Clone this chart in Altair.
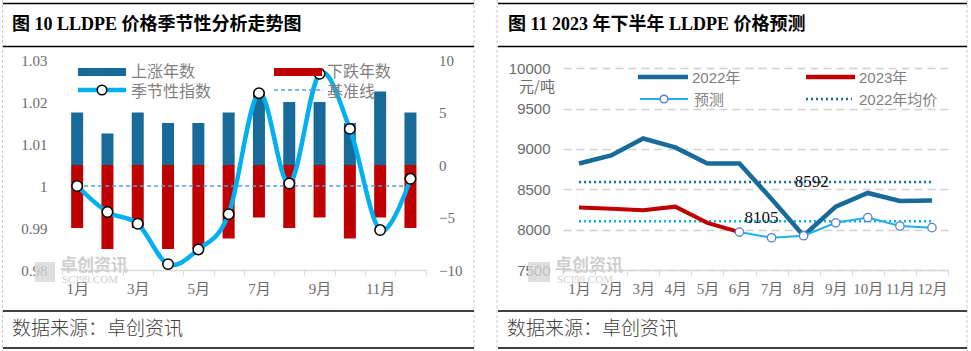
import altair as alt
import pandas as pd

# ---------------- data ----------------
months = ["1月", "2月", "3月", "4月", "5月", "6月", "7月", "8月", "9月", "10月", "11月", "12月"]
up_years = [5, 3, 5, 4, 4, 5, 7, 6, 6, 4, 7, 5]
down_years = [-6, -8, -6, -8, -8, -7, -5, -6, -5, -7, -5, -6]
season_index = [1.000, 0.9938, 0.991, 0.9814, 0.9849, 0.9933, 1.0221, 1.0006, 1.0267, 1.0136, 0.9895, 1.0017]
base_line = 1.0

price_2022 = [8820, 8920, 9130, 9020, 8820, 8820, 8380, 7925, 8285, 8455, 8355, 8360]
months_2023 = ["1月", "2月", "3月", "4月", "5月", "6月"]
price_2023 = [8275, 8260, 8240, 8285, 8085, 7970]
months_pred = ["6月", "7月", "8月", "9月", "10月", "11月", "12月"]
price_pred = [7970, 7900, 7925, 8085, 8150, 8045, 8025]
avg_2022 = 8592
avg_pred = 8105

left_ticks = [0.98, 0.99, 1.0, 1.01, 1.02, 1.03]
right_ticks = [-10, -5, 0, 5, 10]
price_ticks = [7500, 8000, 8500, 9000, 9500, 10000]

# ---------------- styles ----------------
SERIF = "Liberation Serif, Noto Sans CJK SC"
SANS = "Liberation Sans, Noto Sans CJK SC"
CJK = "Noto Sans CJK SC"
DARK_BLUE = "#186B99"
RED = "#C00000"
LIGHT_BLUE = "#00B0F0"
LABEL = "#6b6b6b"
LEG = "#7f7f7f"
AXIS_LINE = "#d9d9d9"

W, H = 971, 351

df1 = pd.DataFrame({"month": months, "up": up_years, "down": down_years,
                    "idx": season_index, "base": [base_line] * 12})
df2 = pd.DataFrame({"month": months, "p2022": price_2022,
                    "avg": [avg_2022] * 12, "pavg": [avg_pred] * 12})
df23 = pd.DataFrame({"month": months_2023, "p2023": price_2023})
dfp = pd.DataFrame({"month": months_pred, "pred": price_pred})
lab_avg = pd.DataFrame({"month": ["8月"], "v": [avg_2022], "t": [str(avg_2022)]})
lab_pavg = pd.DataFrame({"month": ["7月"], "v": [avg_pred], "t": [str(avg_pred)]})

# ---------------- left panel ----------------
x1_scale = alt.Scale(domain=months, range=[62, 425.6], paddingInner=0, paddingOuter=0)
x1_axis = alt.Axis(orient="bottom", offset=-81, title=None, labelAngle=0,
                   labelExpr="parseInt(datum.value) % 2 == 1 ? datum.label : ''",
                   labelFont=SERIF, labelFontSize=15, labelColor=LABEL, labelPadding=6,
                   domainColor=AXIS_LINE, domainWidth=1.5, tickColor=AXIS_LINE, tickSize=5,
                   tickBand="extent", labelOverlap=False, grid=False)
x1 = alt.X("month:N", scale=x1_scale, axis=x1_axis, sort=months)
x1c = alt.X("month:N", scale=x1_scale, axis=x1_axis, sort=months, bandPosition=0.5)

yr_scale = alt.Scale(domain=[-10, 10], range=[270, 60], nice=False, zero=False)
yr_axis = alt.Axis(orient="right", offset=425.6 - W, title=None, values=right_ticks,
                   domain=False, ticks=False, tickSize=0, grid=False, labelFont=SERIF,
                   labelFontSize=15, labelColor=LABEL, labelPadding=13)

up_bars = alt.Chart(df1).mark_bar(size=12, color=DARK_BLUE).encode(
    x=x1, y=alt.Y("up:Q", scale=yr_scale, axis=yr_axis, stack=None))
down_bars = alt.Chart(df1).mark_bar(size=12, color=RED).encode(
    x=x1, y=alt.Y("down:Q", scale=yr_scale, axis=yr_axis, stack=None))
bars_layer = alt.layer(up_bars, down_bars)

yl_scale = alt.Scale(domain=[0.98, 1.03], range=[270, 60], nice=False, zero=False)
yl_axis = alt.Axis(orient="left", offset=-62, title=None, values=left_ticks,
                   labelExpr="datum.value == 1 ? '1' : format(datum.value, '.2f')",
                   domain=False, ticks=False, tickSize=0, grid=False, labelFont=SERIF,
                   labelFontSize=15, labelColor=LABEL, labelPadding=15)

baseline = alt.Chart(df1).mark_line(color="#5B9BD5", strokeWidth=1.5, strokeDash=[4, 3]).encode(
    x=x1c, y=alt.Y("base:Q", scale=yl_scale, axis=yl_axis))
idx_line = alt.Chart(df1).mark_line(color=LIGHT_BLUE, strokeWidth=4.5, interpolate="cardinal").encode(
    x=x1c, y=alt.Y("idx:Q", scale=yl_scale, axis=yl_axis))
idx_pts = alt.Chart(df1).mark_circle(size=110, fill="white", stroke="black", strokeWidth=1.5, opacity=1).encode(
    x=x1c, y=alt.Y("idx:Q", scale=yl_scale, axis=yl_axis))
idx_layer = alt.layer(baseline, idx_line, idx_pts)

panel1 = alt.layer(bars_layer, idx_layer).resolve_scale(y="independent")

# ---------------- right panel ----------------
x2_scale = alt.Scale(domain=months, range=[563, 948], paddingInner=0, paddingOuter=0)
x2_axis = alt.Axis(orient="bottom", offset=-81, title=None, labelAngle=0,
                   labelFont=SERIF, labelFontSize=15, labelColor=LABEL, labelPadding=6,
                   domainColor=AXIS_LINE, domainWidth=1.5, tickColor=AXIS_LINE, tickSize=5,
                   tickBand="extent", labelOverlap=False, grid=False)
x2 = alt.X("month:N", scale=x2_scale, axis=x2_axis, sort=months, bandPosition=0.5)

y2_scale = alt.Scale(domain=[7500, 10000], range=[270, 68.3], nice=False, zero=False)
y2_axis = alt.Axis(orient="left", offset=-563, title=None, values=price_ticks, format="d",
                   domain=False, ticks=False, tickSize=0, grid=True, gridColor="#d0d0d0",
                   gridDash=[8, 5], gridWidth=1.5, labelFont=SANS, labelFontSize=15,
                   labelColor=LABEL, labelPadding=13)

avg_line = alt.Chart(df2).mark_line(color=DARK_BLUE, strokeWidth=2.5, strokeDash=[2, 3]).encode(
    x=x2, y=alt.Y("avg:Q", scale=y2_scale, axis=y2_axis))
pavg_line = alt.Chart(df2).mark_line(color=LIGHT_BLUE, strokeWidth=2.5, strokeDash=[2, 3]).encode(
    x=x2, y=alt.Y("pavg:Q", scale=y2_scale, axis=y2_axis))
l2022 = alt.Chart(df2).mark_line(color=DARK_BLUE, strokeWidth=4.5).encode(
    x=x2, y=alt.Y("p2022:Q", scale=y2_scale, axis=y2_axis))
l2023 = alt.Chart(df23).mark_line(color=RED, strokeWidth=4).encode(
    x=x2, y=alt.Y("p2023:Q", scale=y2_scale, axis=y2_axis))
lpred = alt.Chart(dfp).mark_line(color="#1FB0EA", strokeWidth=2).encode(
    x=x2, y=alt.Y("pred:Q", scale=y2_scale, axis=y2_axis))
ppred = alt.Chart(dfp).mark_circle(size=70, fill="white", stroke="#5B7FD6", strokeWidth=1.3, opacity=1).encode(
    x=x2, y=alt.Y("pred:Q", scale=y2_scale, axis=y2_axis))
lab1 = alt.Chart(lab_avg).mark_text(font=SERIF, fontSize=17, color="#111111", baseline="middle",
                                    align="center", dx=8).encode(
    x=x2, y=alt.Y("v:Q", scale=y2_scale, axis=y2_axis), text="t:N")
lab2 = alt.Chart(lab_pavg).mark_text(font=SERIF, fontSize=17, color="#111111", baseline="middle",
                                     align="center", dx=-10, dy=-3).encode(
    x=x2, y=alt.Y("v:Q", scale=y2_scale, axis=y2_axis), text="t:N")

panel2 = alt.layer(avg_line, pavg_line, l2022, l2023, lpred, ppred, lab1, lab2)

# ---------------- decorations ----------------
one = pd.DataFrame({"a": [0]})


def txt(s, x, y, size, color, font, weight="normal", align="left"):
    return alt.Chart(one).mark_text(text=s, align=align, baseline="middle", fontSize=size,
                                    color=color, font=font, fontWeight=weight).encode(
        x=alt.value(x), y=alt.value(y))


def hline(x_a, x_b, y, color, width, dash=None):
    kw = {"color": color, "strokeWidth": width}
    if dash:
        kw["strokeDash"] = dash
    return alt.Chart(one).mark_rule(**kw).encode(x=alt.value(x_a), x2=alt.value(x_b), y=alt.value(y))


def vline(x, color, width, dash):
    return alt.Chart(one).mark_rule(color=color, strokeWidth=width, strokeDash=dash).encode(
        x=alt.value(x), y=alt.value(0), y2=alt.value(H))


def rect(x_a, x_b, y_a, y_b, color, opacity=1.0):
    return alt.Chart(one).mark_rect(color=color, opacity=opacity).encode(
        x=alt.value(x_a), x2=alt.value(x_b), y=alt.value(y_a), y2=alt.value(y_b))


def dot(x, y, stroke, size):
    return alt.Chart(one).mark_point(shape="circle", filled=False, fill="white", stroke=stroke,
                                     strokeWidth=1.5, size=size, opacity=1).encode(
        x=alt.value(x), y=alt.value(y))


decor = [
    vline(2.5, "#c8c8c8", 1, [3, 2]), vline(474, "#c8c8c8", 1, [3, 2]),
    vline(497, "#c8c8c8", 1, [3, 2]), vline(967, "#c8c8c8", 1, [3, 2]),
    hline(3, 474, 3.5, "black", 1.5), hline(3, 474, 46.5, "black", 1.5),
    hline(498, 967, 3.5, "black", 1.5), hline(498, 967, 46.5, "black", 1.5),
    hline(3, 474, 311, "black", 1.5), hline(3, 474, 348, "black", 1.5),
    hline(498, 967, 311, "black", 1.5), hline(498, 967, 348, "black", 1.5),
    txt("图 10 LLDPE 价格季节性分析走势图", 12, 25, 18, "black", SERIF, "bold"),
    txt("图 11  2023 年下半年 LLDPE 价格预测", 508, 25, 18, "black", SERIF, "bold"),
    txt("数据来源：卓创资讯", 12, 329, 19, "#404040", CJK, 300),
    txt("数据来源：卓创资讯", 507, 329, 19, "#404040", CJK, 300),
    # watermarks
    rect(35, 55, 262, 282, "#d6d6d6", 0.8),
    txt("卓创资讯", 60, 266, 17, "#cfcfcf", CJK, "bold"),
    txt("SCI99.COM", 62, 280, 11, "#cfcfcf", SERIF),
    rect(528, 550, 262, 282, "#d6d6d6", 0.8),
    txt("卓创资讯", 555, 266, 17, "#cfcfcf", CJK, "bold"),
    txt("SCI99.COM", 557, 280, 11, "#cfcfcf", SERIF),
    # right panel unit
    txt("元/吨", 537, 87, 15, LABEL, CJK, align="center"),
]

legend = [
    # left legend
    rect(78, 126, 68, 76, DARK_BLUE),
    txt("上涨年数", 131, 72, 16, LEG, CJK),
    hline(78, 126, 90, LIGHT_BLUE, 4.5),
    dot(102, 90, "black", 90),
    txt("季节性指数", 131, 92, 16, LEG, CJK),
    rect(274, 322, 68, 76, RED),
    txt("下跌年数", 327, 72, 16, LEG, CJK),
    hline(274, 322, 90, "#5B9BD5", 1.5, [4, 3]),
    txt("基准线", 327, 92, 16, LEG, CJK),
    # right legend
    hline(638, 688, 77, DARK_BLUE, 4.5),
    txt("2022年", 692, 78, 15, LEG, SANS),
    hline(806, 855, 77, RED, 4.5),
    txt("2023年", 859, 78, 15, LEG, SANS),
    hline(640, 688, 99, "#1FB0EA", 2),
    dot(664, 99, "#5B7FD6", 60),
    txt("预测", 694, 100, 15, LEG, SANS),
    hline(806, 852, 99, DARK_BLUE, 2.5, [2, 3]),
    txt("2022年均价", 859, 100, 15, LEG, SANS),
]

chart = alt.layer(panel1, panel2, *decor, *legend).resolve_scale(
    x="independent", y="independent"
).properties(
    width=W, height=H, autosize=alt.AutoSizeParams(type="none"), padding=0, background="white"
).configure_view(strokeWidth=0)

chart.save("out.html", embed_options={"renderer": "svg", "actions": False})
